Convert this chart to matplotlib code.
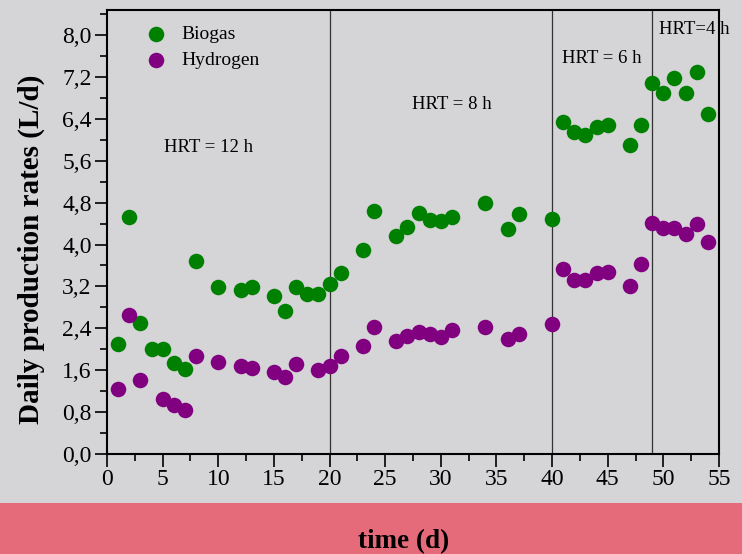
import matplotlib.pyplot as plt
from matplotlib.patches import Rectangle
from matplotlib.ticker import MultipleLocator, FuncFormatter

plt.rcParams['font.family'] = ['Liberation Serif', 'DejaVu Serif']

# data
days_biogas = [1, 2, 3, 4, 5, 6, 7, 8, 10, 12, 13, 15, 16, 17, 18, 19, 20, 21, 23, 24,
               26, 27, 28, 29, 30, 31, 34, 36, 37, 40, 41, 42, 43, 44, 45, 47, 48,
               49, 50, 51, 52, 53, 54]
biogas = [2.10, 4.52, 2.50, 2.00, 2.00, 1.74, 1.62, 3.68, 3.19, 3.13, 3.19, 3.02, 2.73,
          3.19, 3.05, 3.05, 3.25, 3.46, 3.90, 4.64, 4.16, 4.33, 4.60, 4.47, 4.45, 4.52,
          4.79, 4.30, 4.58, 4.49, 6.34, 6.15, 6.09, 6.24, 6.28, 5.90, 6.28, 7.08, 6.89,
          7.18, 6.89, 7.29, 6.49]

days_h2 = [1, 2, 3, 5, 6, 7, 8, 10, 12, 13, 15, 16, 17, 19, 20, 21, 23, 24, 26, 27,
           28, 29, 30, 31, 34, 36, 37, 40, 41, 42, 43, 44, 45, 47, 48, 49, 50, 51,
           52, 53, 54]
hydrogen = [1.24, 2.65, 1.41, 1.05, 0.94, 0.84, 1.87, 1.76, 1.68, 1.64, 1.57, 1.47,
            1.72, 1.60, 1.68, 1.87, 2.06, 2.42, 2.16, 2.25, 2.33, 2.29, 2.23, 2.37,
            2.42, 2.20, 2.29, 2.48, 3.53, 3.32, 3.32, 3.46, 3.47, 3.21, 3.63, 4.41,
            4.31, 4.31, 4.20, 4.39, 4.05]

hrt_changes = [20, 40, 49]
hrt_labels = ['HRT = 12 h', 'HRT = 8 h', 'HRT = 6 h', 'HRT=4 h']
hrt_pos = [(9.1, 5.86), (31.0, 6.68), (44.5, 7.56), (52.8, 8.11)]

bg = '#d5d5d8'
fig = plt.figure(figsize=(7.42, 5.54), dpi=100, facecolor=bg)
fig.patches.append(Rectangle((0, 0), 1, 0.092, transform=fig.transFigure,
                             facecolor='#e56b7b', edgecolor='none', zorder=-5))
ax = fig.add_axes([0.1442, 0.1805, 0.8248, 0.8015])
ax.set_facecolor(bg)

ax.scatter(days_biogas, biogas, s=125, color='#008000', label='Biogas', zorder=3, linewidths=0)
ax.scatter(days_h2, hydrogen, s=125, color='#800080', label='Hydrogen', zorder=3, linewidths=0)

for d in hrt_changes:
    ax.axvline(d, color='#333333', lw=0.9, zorder=1)
for t, (x, y) in zip(hrt_labels, hrt_pos):
    ax.text(x, y, t, ha='center', va='center', fontsize=13.5, clip_on=False)

ax.set_xlim(0, 55)
ax.set_ylim(0, 8.48)
ax.xaxis.set_major_locator(MultipleLocator(5))
ax.xaxis.set_minor_locator(MultipleLocator(2.5))
ax.yaxis.set_major_locator(MultipleLocator(0.8))
ax.yaxis.set_minor_locator(MultipleLocator(0.4))
ax.yaxis.set_major_formatter(FuncFormatter(lambda v, p: f'{v:.1f}'.replace('.', ',')))
ax.tick_params(which='both', direction='out', labelsize=17, width=1.2)
ax.tick_params(which='major', length=9, pad=2)
ax.tick_params(which='minor', length=5)
for s in ax.spines.values():
    s.set_linewidth(1.5)

ax.set_ylabel('Daily production rates (L/d)', fontsize=21, fontweight='bold')
ax.yaxis.set_label_coords(-0.102, 0.46)
ax.set_xlabel('time (d)', fontsize=19.5, fontweight='bold')
ax.xaxis.set_label_coords(0.485, -0.17)

ax.legend(loc='upper left', frameon=False, fontsize=14, bbox_to_anchor=(0.02, 1.005),
          handletextpad=0.3, labelspacing=0.45, markerscale=1.0)

fig.savefig('out.png', dpi=100, facecolor=bg)
